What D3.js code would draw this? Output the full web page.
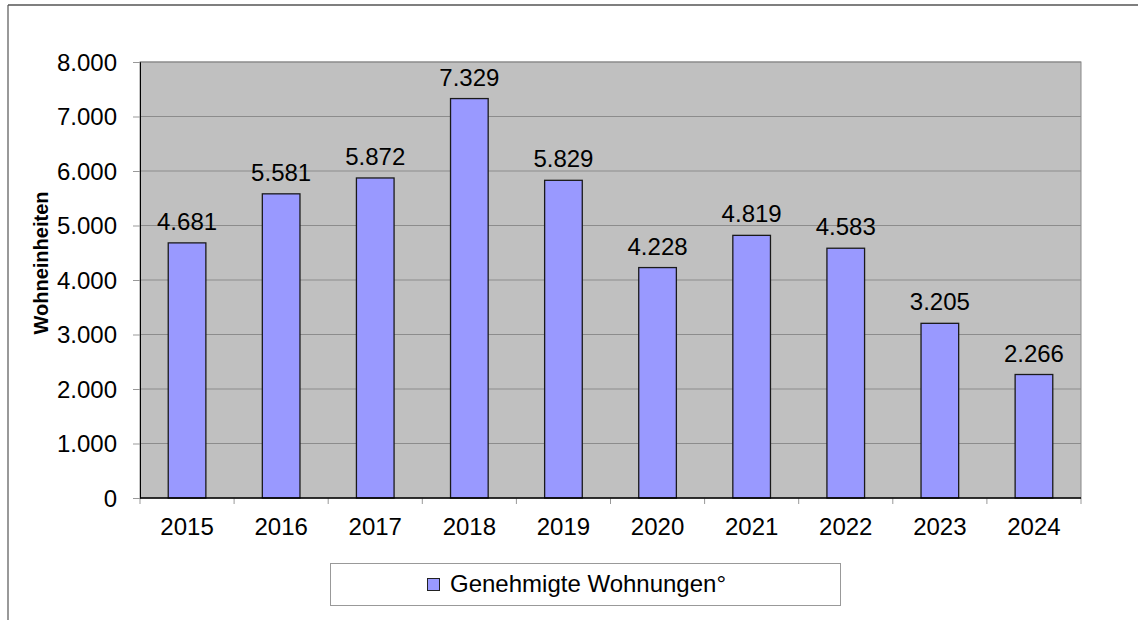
<!DOCTYPE html>
<html><head><meta charset="utf-8">
<script src="https://cdn.jsdelivr.net/npm/d3@7"></script>
<style>body{margin:0;background:#fff}svg{display:block;font-family:"Liberation Sans",Arial,sans-serif}</style>
</head><body><svg id="c" width="1148" height="620"></svg>
<script>
const years = ["2015","2016","2017","2018","2019","2020","2021","2022","2023","2024"];
const values = [4681,5581,5872,7329,5829,4228,4819,4583,3205,2266];
const yTicks = [0,1000,2000,3000,4000,5000,6000,7000,8000];
const seriesName = "Genehmigte Wohnungen°";
const yTitle = "Wohneinheiten";

const svg = d3.select("#c");
const L=140, R=1081, T=62, B=498;
const FF = "Liberation Sans, Arial, sans-serif";
const fmt = d3.formatLocale({decimal:",",thousands:".",grouping:[3],currency:["","€"]}).format(",");

// outer frame
svg.append("line").attr("x1",8).attr("x2",1138).attr("y1",5).attr("y2",5).attr("stroke","#000").attr("stroke-width",1.2);
svg.append("line").attr("x1",8).attr("x2",8).attr("y1",5).attr("y2",620).attr("stroke","#555").attr("stroke-width",1.2);

const x = d3.scaleBand().domain(years).range([L,R]).paddingInner(0.6).paddingOuter(0.3);
const xb = d3.scaleBand().domain(years).range([L,R]);
const y = d3.scaleLinear().domain([0,8000]).range([B,T]);

svg.append("rect").attr("x",L).attr("y",T).attr("width",R-L).attr("height",B-T).attr("fill","#c0c0c0").attr("stroke","#888").attr("stroke-width",1);

// gridlines
svg.append("g").selectAll("line").data(yTicks.filter(d=>d>0)).join("line")
  .attr("x1",L).attr("x2",R).attr("y1",d=>y(d)).attr("y2",d=>y(d)).attr("stroke","#8c8c8c").attr("stroke-width",1);

// y axis
const ya = svg.append("g").attr("transform",`translate(${L},0)`)
  .call(d3.axisLeft(y).tickValues(yTicks).tickFormat(fmt).tickSize(7).tickPadding(16));
ya.select(".domain").attr("stroke","#000");
ya.selectAll(".tick line").attr("stroke","#999");
ya.selectAll("text").attr("font-size",24).attr("fill","#000").attr("font-family",FF).attr("dy","0.35em");

// x axis
const xa = svg.append("g").attr("transform",`translate(0,${B})`)
  .call(d3.axisBottom(xb).tickSize(0).tickPadding(20));
xa.select(".domain").remove();
xa.selectAll("text").attr("font-size",24).attr("fill","#000").attr("font-family",FF);
svg.append("g").selectAll("line").data(years.concat(["end"])).join("line")
  .attr("x1",(d,i)=>L+i*xb.step()).attr("x2",(d,i)=>L+i*xb.step())
  .attr("y1",B).attr("y2",B+6).attr("stroke","#999");

// bars
svg.append("g").selectAll("rect").data(values).join("rect")
  .attr("x",(d,i)=>x(years[i])).attr("width",x.bandwidth())
  .attr("y",d=>y(d)).attr("height",d=>B-y(d))
  .attr("fill","#9999ff").attr("stroke","#1a1a1a").attr("stroke-width",1.3);

svg.append("line").attr("x1",L).attr("x2",R).attr("y1",B).attr("y2",B).attr("stroke","#000").attr("stroke-width",1.3);

// value labels
svg.append("g").selectAll("text").data(values).join("text")
  .attr("x",(d,i)=>x(years[i])+x.bandwidth()/2).attr("y",d=>y(d)-13)
  .attr("text-anchor","middle").attr("font-size",24).attr("fill","#000").text(d=>fmt(d));

// y title
svg.append("text").attr("transform",`translate(48,263) rotate(-90)`)
  .attr("text-anchor","middle").attr("font-size",20).attr("font-weight","bold").text(yTitle);

// legend
svg.append("rect").attr("x",330.5).attr("y",563.5).attr("width",510).attr("height",42).attr("fill","#fff").attr("stroke","#999");
svg.append("rect").attr("x",427.5).attr("y",578.5).attr("width",12).attr("height",12).attr("fill","#9999ff").attr("stroke","#222");
svg.append("text").attr("x",450).attr("y",592).attr("font-size",24).attr("fill","#000").text(seriesName);
</script></body></html>
